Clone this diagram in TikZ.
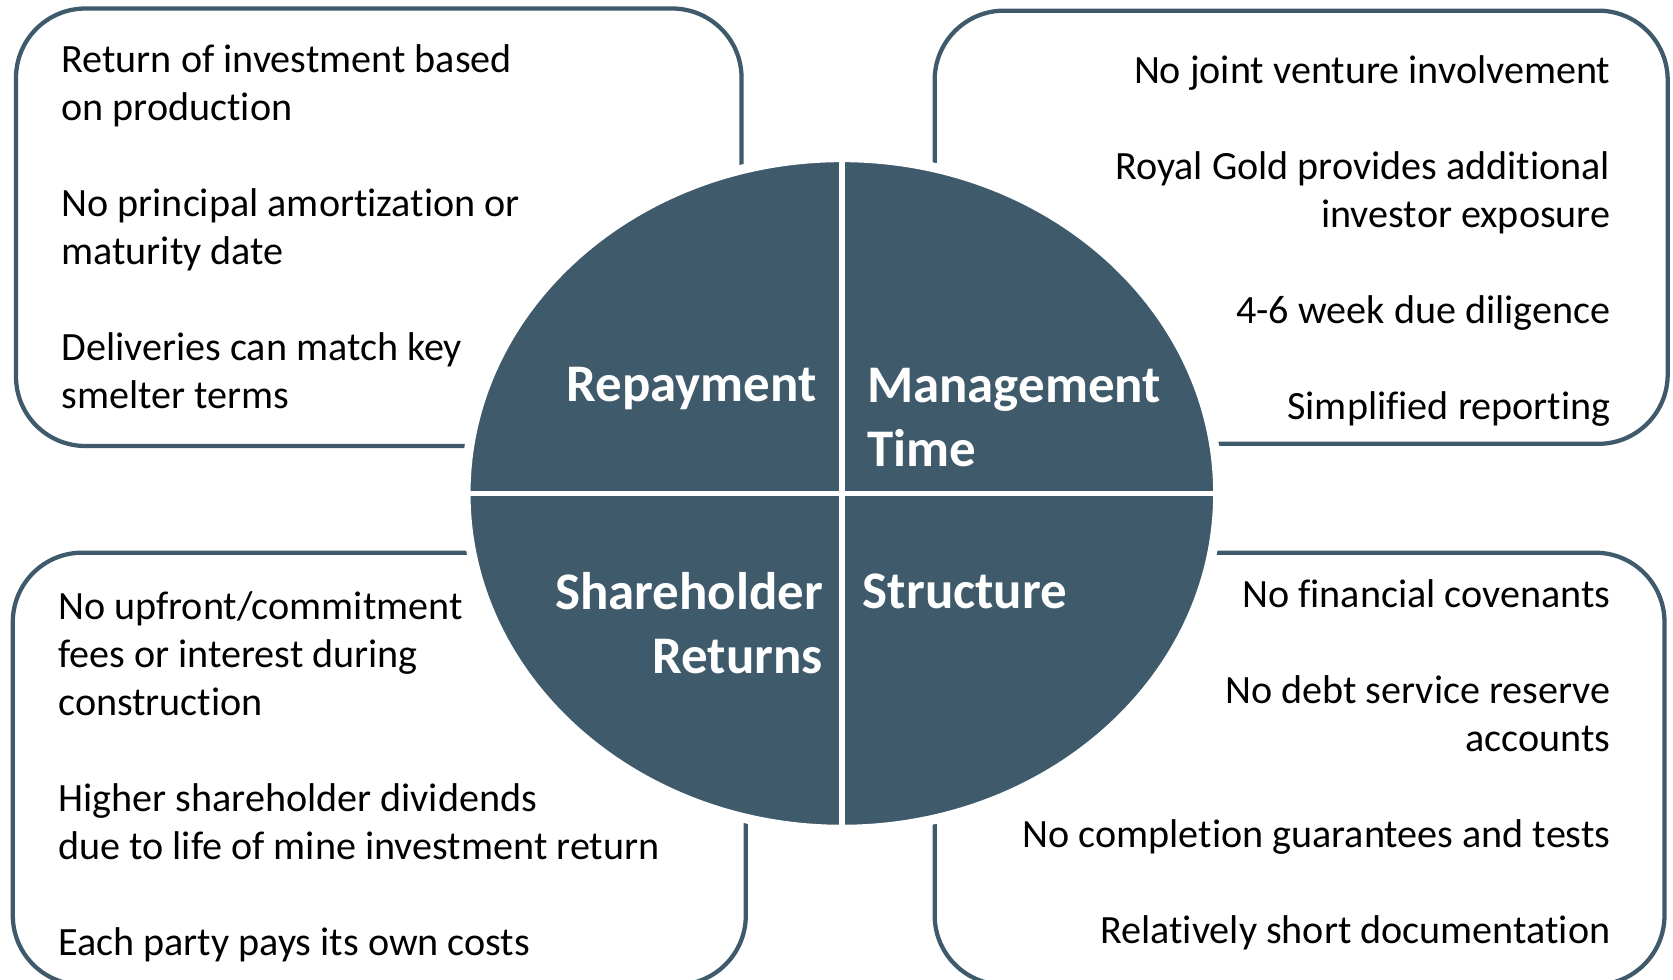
\documentclass[tikz,border=0pt]{standalone}
\usepackage{fontspec}
\setmainfont{Carlito}[Ligatures=NoCommon]
\usetikzlibrary{shapes.geometric}
\definecolor{slate}{HTML}{3E5A6B}

\begin{document}
\begin{tikzpicture}[
    box/.style={draw=slate, line width=0.04cm, rounded corners=0.65cm},
    point/.style={inner sep=0pt, font=\fontsize{10.7}{12.8}\selectfont},
    heading/.style={inner sep=0pt, text=white, font=\fontsize{14.1}{17.1}\selectfont\bfseries},
    divider/.style={white, line width=0.05cm}
  ]
    \useasboundingbox (0,0) rectangle (15.68,9.18);
    % the four boxes
    \draw [box] (0.15,5.00) rectangle (6.95,9.10);
    \draw [box] (8.76,5.02) rectangle (15.63,9.08);
    \draw [box] (0.12,-0.05) rectangle (6.99,4.00);
    \draw [box] (8.76,-0.05) rectangle (15.60,4.00);
    % the disc in the middle
    \node [ellipse, fill=slate, draw=white, line width=0.09cm, inner sep=0pt,
      minimum width=7.05cm, minimum height=6.30cm] (disc) at (7.89,4.555) {};
    \draw [divider] (disc.north) -- (disc.south);
    \draw [divider] (disc.west) -- (disc.east);
    % quarter titles
    \node [heading, anchor=base east] (repay) at (7.66,5.42) {Repayment};
    \node [heading, anchor=north west, align=left] (mgmt) at (8.12,5.74) {Management\\Time};
    \node [heading, anchor=north east, align=right] (share) at (7.72,3.82) {Shareholder\\Returns};
    \node [heading, anchor=base west] (struct) at (8.08,3.48) {Structure};
    % box texts
    \node [point, anchor=north west, align=left] (repaytext) at (0.57,8.77)
      {Return of investment based\\on production\\[\baselineskip]
       No principal amortization or\\maturity date\\[\baselineskip]
       Deliveries can match key\\smelter terms};
    \node [point, anchor=north east, align=right] (mgmttext) at (15.10,8.67)
      {No joint venture involvement\\[\baselineskip]
       Royal Gold provides additional\\investor exposure\\[\baselineskip]
       4-6 week due diligence\\[\baselineskip]
       Simplified reporting};
    \node [point, anchor=north west, align=left] (sharetext) at (0.54,3.64)
      {No upfront/commitment\\fees or interest during\\construction\\[\baselineskip]
       Higher shareholder dividends\\due to life of mine investment return\\[\baselineskip]
       Each party pays its own costs};
    \node [point, anchor=north east, align=right] (structtext) at (15.10,3.75)
      {No financial covenants\\[\baselineskip]
       No debt service reserve\\accounts\\[\baselineskip]
       No completion guarantees and tests\\[\baselineskip]
       Relatively short documentation};
\end{tikzpicture}
\end{document}
